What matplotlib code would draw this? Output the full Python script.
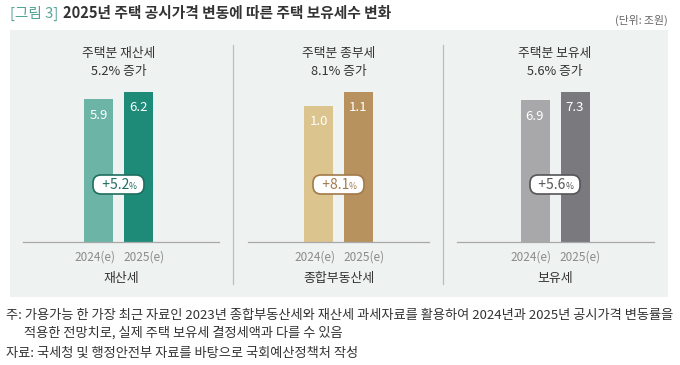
import matplotlib.pyplot as plt
from matplotlib.patches import Rectangle
from matplotlib.lines import Line2D
from matplotlib.offsetbox import TextArea, HPacker, AnnotationBbox

plt.rcParams['font.family'] = ['Noto Sans CJK KR', 'DejaVu Sans']

# data
years = ['2024(e)', '2025(e)']
tax_names = ['재산세', '종합부동산세', '보유세']
panel_titles = ['주택분 재산세', '주택분 종부세', '주택분 보유세']
values_2024 = [5.9, 1.0, 6.9]
values_2025 = [6.2, 1.1, 7.3]
growth = [5.2, 8.1, 5.6]

colors_2024 = ['#6CB5A6', '#DCC48F', '#A8A8AA']
colors_2025 = ['#1E8B78', '#B8925E', '#7A7A7E']
badge_colors = ['#1E6E60', '#A27A4A', '#555558']

W, H = 680, 365
fig = plt.figure(figsize=(W / 100, H / 100), dpi=100)
fig.patch.set_facecolor('white')


def fx(px):
    return px / W


def fy(py):
    return 1 - py / H


# light background panel
fig.patches.append(Rectangle((fx(10), fy(297)), fx(668) - fx(10), fy(30) - fy(297),
                             transform=fig.transFigure, facecolor='#EEF2F0',
                             edgecolor='none', zorder=-5))
for xd in [233, 443]:
    fig.lines.append(Line2D([fx(xd), fx(xd)], [fy(45), fy(284)], transform=fig.transFigure,
                            color='#BDBDBD', lw=0.9, zorder=-4))

fig.text(fx(10), fy(13), '[그림 3]', color='#55A596', fontsize=10.6, va='center', ha='left')
fig.text(fx(63), fy(13), '2025년 주택 공시가격 변동에 따른 주택 보유세수 변화', color='#333333',
         fontsize=10.6, fontweight='bold', va='center', ha='left')
fig.text(fx(668), fy(20), '(단위: 조원)', color='#666666', fontsize=7.8, va='center', ha='right')

lefts = [23, 248, 457]
rights = [219, 429, 654]
first_centers = [98.5, 318.5, 535]
base_y, top_y = 242, 92
step = 40.0

for i in range(3):
    ax = fig.add_axes([fx(lefts[i]), fy(base_y), fx(rights[i]) - fx(lefts[i]),
                       fy(top_y) - fy(base_y)])
    ax.set_facecolor('none')
    vals = [values_2024[i], values_2025[i]]
    cols = [colors_2024[i], colors_2025[i]]
    bars = ax.bar([0, 1], vals, width=29 / step, color=cols)
    ax.set_xlim(-(first_centers[i] - lefts[i]) / step, (rights[i] - first_centers[i]) / step)
    ax.set_ylim(0, values_2025[i])
    for b, v in zip(bars, vals):
        ax.annotate(f'{v:.1f}', (b.get_x() + b.get_width() / 2, v), xytext=(0, -11.5),
                    textcoords='offset points', ha='center', va='center',
                    color='white', fontsize=9.5)
    for s in ['top', 'right', 'left']:
        ax.spines[s].set_visible(False)
    ax.spines['bottom'].set_color('#A8A8A8')
    ax.spines['bottom'].set_linewidth(0.9)
    ax.set_yticks([])
    # year labels sit a little wider apart than the bars
    ax.set_xticks([-0.1, 1.13], years)
    ax.tick_params(axis='x', length=0, pad=6, labelsize=8.5, labelcolor='#8A8A8A')
    ax.set_xlabel(tax_names[i], fontsize=9.3, color='#333333', labelpad=6.5)

    # panel title
    cx = first_centers[i] + step / 2
    fig.text(fx(cx), fy(54), panel_titles[i], ha='center', va='center',
             fontsize=9.2, color='#333333')
    fig.text(fx(cx), fy(72), f'{growth[i]}% 증가', ha='center', va='center',
             fontsize=9.2, color='#333333')

    # growth badge
    t1 = TextArea(f'  +{growth[i]}', textprops=dict(color=badge_colors[i], fontsize=10))
    t2 = TextArea('%  ', textprops=dict(color=badge_colors[i], fontsize=6.2))
    pack = HPacker(children=[t1, t2], align='baseline', pad=0, sep=0)
    ab = AnnotationBbox(pack, (0.5, 0.383), xycoords=('data', 'axes fraction'),
                        frameon=True, pad=0,
                        bboxprops=dict(boxstyle='round,pad=0.2,rounding_size=0.6',
                                       fc='white', ec=badge_colors[i], lw=1.2))
    ax.add_artist(ab)

notes = [
    '주: 가용가능 한 가장 최근 자료인 2023년 종합부동산세와 재산세 과세자료를 활용하여 2024년과 2025년 공시가격 변동률을',
    '적용한 전망치로, 실제 주택 보유세 결정세액과 다를 수 있음',
    '자료: 국세청 및 행정안전부 자료를 바탕으로 국회예산정책처 작성',
]
fig.text(fx(6), fy(316), notes[0], fontsize=9.5, color='#333333', va='center', ha='left')
fig.text(fx(24), fy(333), notes[1], fontsize=9.5, color='#333333', va='center', ha='left')
fig.text(fx(6), fy(353), notes[2], fontsize=9.5, color='#333333', va='center', ha='left')

fig.savefig('out.png', dpi=100)
